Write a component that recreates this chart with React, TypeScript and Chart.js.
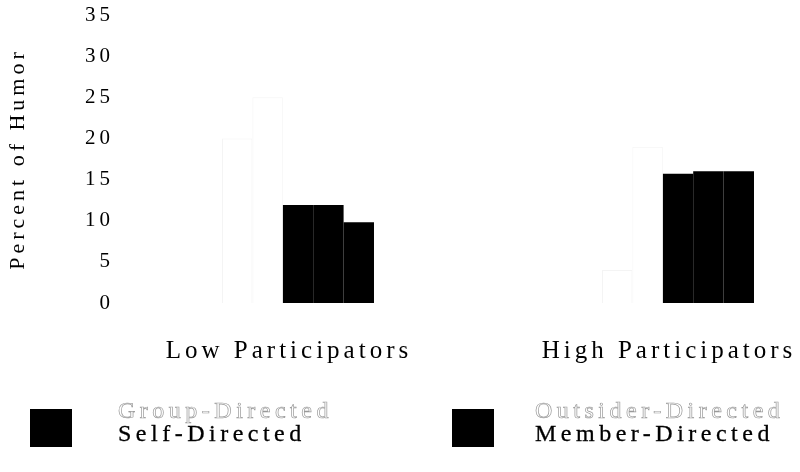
import React, { useEffect, useRef } from 'react';
import { Chart, registerables } from 'chart.js';

Chart.register(...registerables);

// ---- data ----
const categories = ['Low Participators', 'High Participators'];
const categoryPositions = [1, 2];
const groupDirected = [20, 4];
const outsiderDirected = [25, 19];
const selfDirected = [11.9, 15.7];
const memberDirected = [11.9, 16.0];
const fifthSeries = [9.8, 16.0];
const yMin = 0;
const yMax = 35;
const yStep = 5;

const FONT = "'Liberation Serif', 'DejaVu Serif', serif";

const spacingPlugin = {
  id: 'letterSpacing',
  beforeLayout(chart: any) {
    chart.ctx.letterSpacing = '4px';
  },
  beforeDraw(chart: any) {
    chart.ctx.letterSpacing = '4px';
  },
};

export default function App() {
  const ref = useRef<HTMLCanvasElement>(null);

  useEffect(() => {
    const canvas = ref.current;
    if (!canvas) return;
    const chart = new Chart(canvas, {
      type: 'bar',
      data: {
        labels: categoryPositions,
        datasets: [
          { label: 'Group-Directed', data: groupDirected, backgroundColor: '#ffffff', borderColor: '#f4f4f4', borderWidth: 1 },
          { label: 'Outsider-Directed', data: outsiderDirected, backgroundColor: '#ffffff', borderColor: '#f4f4f4', borderWidth: 1 },
          { label: 'Self-Directed', data: selfDirected, backgroundColor: '#000000', borderWidth: 0 },
          { label: 'Member-Directed', data: memberDirected, backgroundColor: '#000000', borderWidth: 0 },
          { label: '', data: fifthSeries, backgroundColor: '#000000', borderWidth: 0 },
        ],
      },
      plugins: [spacingPlugin],
      options: {
        animation: false,
        responsive: false,
        layout: { padding: { top: 15, left: 0, right: 5, bottom: 0 } },
        plugins: { legend: { display: false }, tooltip: { enabled: false } },
        datasets: { bar: { categoryPercentage: 0.4, barPercentage: 1 } } as any,
        scales: {
          x: {
            type: 'linear',
            min: 0.5316,
            max: 2.3079,
            offset: false,
            grid: { display: false, drawTicks: false },
            border: { display: false },
            afterBuildTicks: (s: any) => {
              s.ticks = categoryPositions.map((v) => ({ value: v }));
            },
            afterFit: (s: any) => {
              s.height = 169;
              s.paddingLeft = 0;
              s.paddingRight = 0;
            },
            ticks: {
              callback: (v: any) => categories[categoryPositions.indexOf(Number(v))],
              padding: 33,
              labelOffset: -9,
              maxRotation: 0,
              autoSkip: false,
              color: '#000',
              font: { family: FONT, size: 25 },
            },
          } as any,
          y: {
            min: yMin,
            max: yMax,
            grid: { display: false, drawTicks: false },
            border: { display: false },
            ticks: {
              stepSize: yStep,
              padding: 6,
              color: '#000',
              font: { family: FONT, size: 21 },
            },
            title: {
              display: true,
              text: 'Percent of Humor',
              color: '#000',
              font: { family: FONT, size: 22 },
              padding: { top: 5, bottom: 4 },
            },
            afterFit: (s: any) => {
              s.width = 120;
              s.paddingTop = 0;
              s.paddingBottom = 0;
            },
          } as any,
        },
      },
    });
    return () => chart.destroy();
  }, []);

  const legendText: React.CSSProperties = {
    position: 'absolute',
    fontFamily: FONT,
    fontSize: 24,
    letterSpacing: '4.5px',
    lineHeight: '26px',
    whiteSpace: 'nowrap',
  };
  const outline: React.CSSProperties = {
    color: '#ffffff',
    WebkitTextStroke: '0.7px #9a9a9a',
  } as any;
  const solid: React.CSSProperties = {
    color: '#000000',
    WebkitTextStroke: '0.3px #000',
  } as any;
  const box: React.CSSProperties = { position: 'absolute', width: 42, height: 38 };

  return (
    <div style={{ position: 'absolute', left: 0, top: 0, width: 800, height: 472, background: '#fff', overflow: 'hidden' }}>
      <canvas ref={ref} width={800} height={472} style={{ position: 'absolute', left: 0, top: 0 }} />
      <div style={{ ...box, left: 30, top: 370, background: '#fff' }} />
      <div style={{ ...legendText, ...outline, left: 118, top: 397 }}>Group-Directed</div>
      <div style={{ ...box, left: 452, top: 370, background: '#fff' }} />
      <div style={{ ...legendText, ...outline, left: 535, top: 397 }}>Outsider-Directed</div>
      <div style={{ ...box, left: 30, top: 409, background: '#000' }} />
      <div style={{ ...legendText, ...solid, left: 118, top: 420 }}>Self-Directed</div>
      <div style={{ ...box, left: 452, top: 409, background: '#000' }} />
      <div style={{ ...legendText, ...solid, left: 535, top: 420 }}>Member-Directed</div>
    </div>
  );
}
